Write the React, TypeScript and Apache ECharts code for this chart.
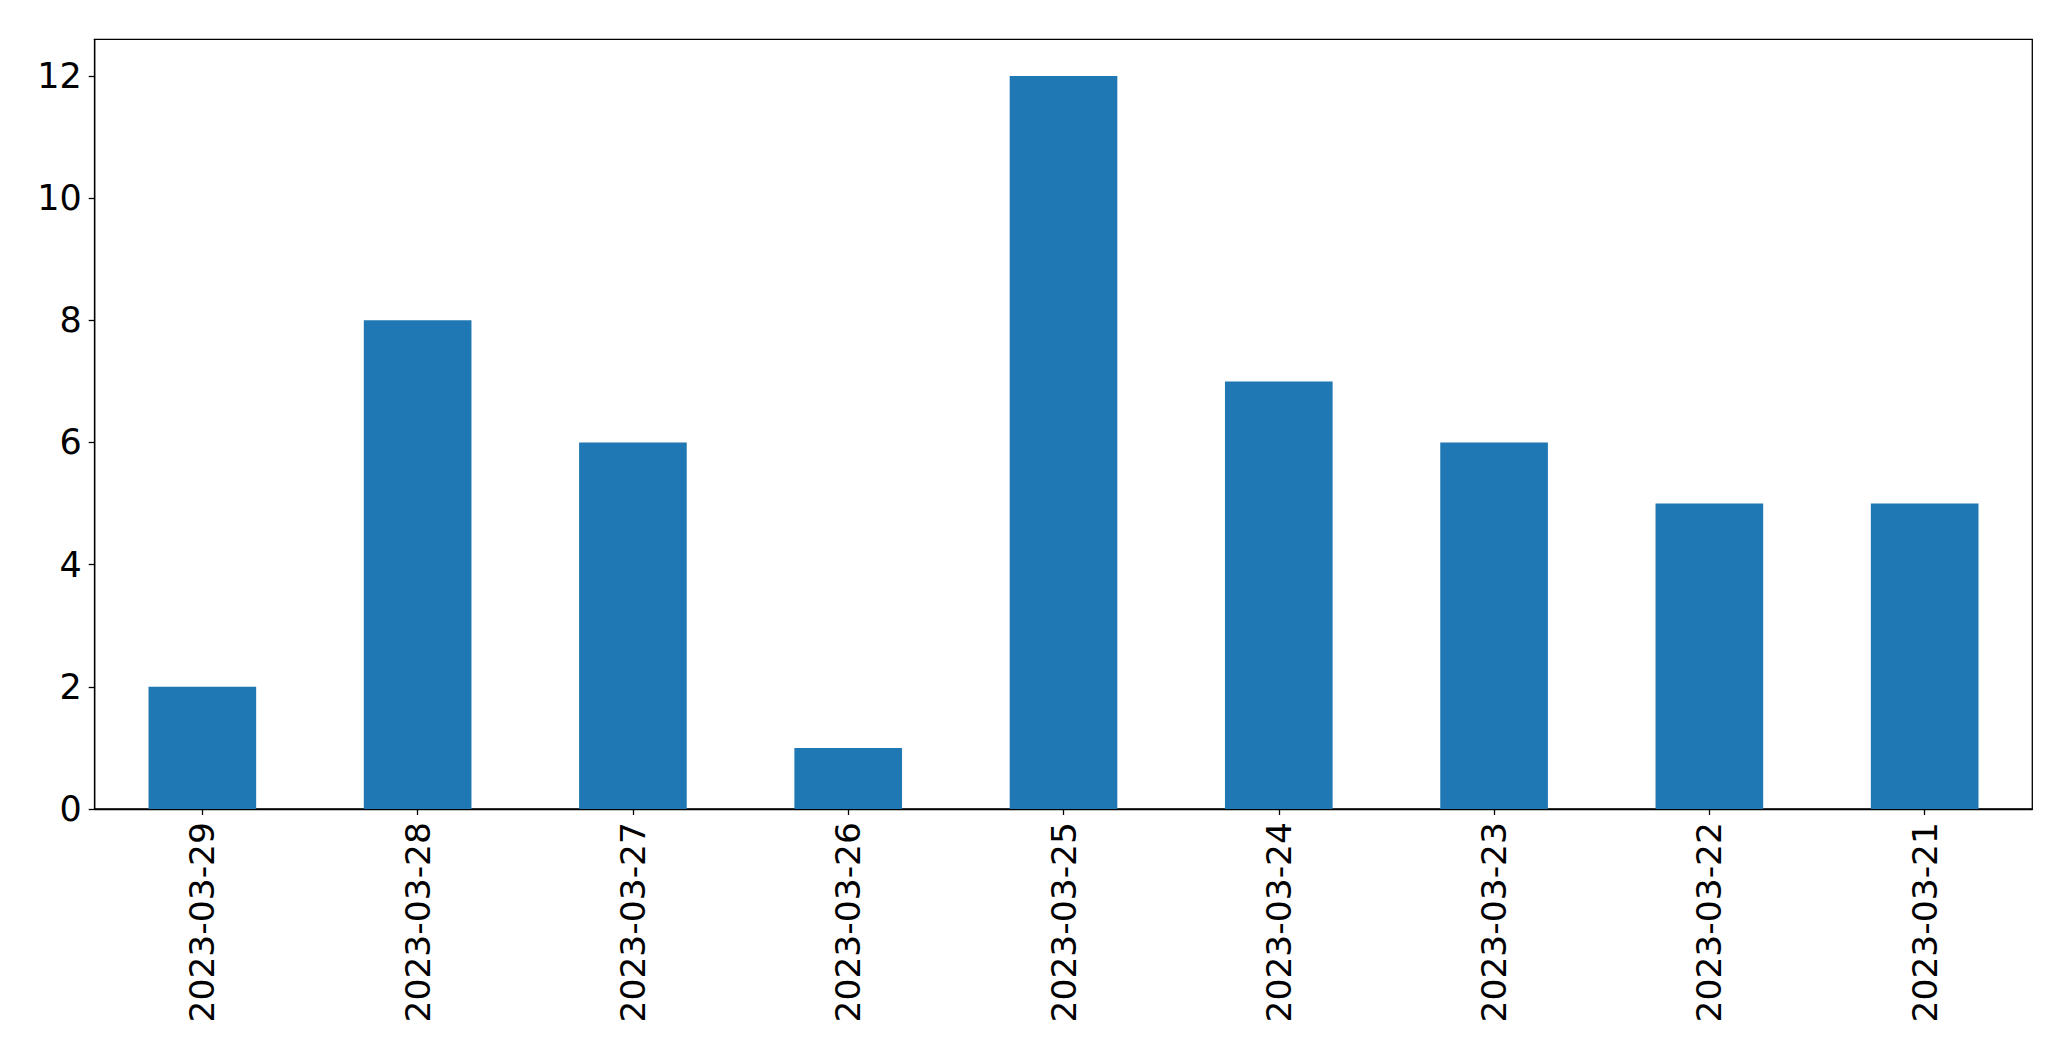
import React, { useEffect, useRef } from "react";
import * as echarts from "echarts";

const categories = [
  "2023-03-29",
  "2023-03-28",
  "2023-03-27",
  "2023-03-26",
  "2023-03-25",
  "2023-03-24",
  "2023-03-23",
  "2023-03-22",
  "2023-03-21",
];
const values = [2, 8, 6, 1, 12, 7, 6, 5, 5];
const yTicks = [0, 2, 4, 6, 8, 10, 12];

export default function App() {
  const ref = useRef<HTMLDivElement>(null);
  useEffect(() => {
    if (!ref.current) return;
    const chart = echarts.init(ref.current, undefined, { renderer: "svg" });
    chart.setOption({
      animation: false,
      backgroundColor: "#ffffff",
      grid: {
        left: 94.7,
        top: 39.3,
        right: 38.7,
        bottom: 252,
        show: true,
        borderColor: "#000000",
        borderWidth: 1.3,
        backgroundColor: "transparent",
      },
      xAxis: {
        type: "category",
        data: categories,
        boundaryGap: true,
        axisLine: { show: true, lineStyle: { color: "#000000", width: 1.3 } },
        axisTick: {
          show: true,
          alignWithLabel: true,
          length: 6,
          lineStyle: { color: "#000000", width: 1.3 },
        },
        axisLabel: {
          rotate: 90,
          margin: 13,
          color: "#000000",
          fontFamily: "DejaVu Sans",
          fontSize: 34.5,
          interval: 0,
        },
        splitLine: { show: false },
      },
      yAxis: {
        type: "value",
        min: 0,
        max: 12.6,
        interval: 2,
        axisLine: { show: true, lineStyle: { color: "#000000", width: 1.3 } },
        axisTick: {
          show: true,
          length: 6,
          customValues: yTicks,
          lineStyle: { color: "#000000", width: 1.3 },
        },
        axisLabel: {
          customValues: yTicks,
          margin: 13,
          color: "#000000",
          fontFamily: "DejaVu Sans",
          fontSize: 35,
        },
        splitLine: { show: false },
      },
      series: [
        {
          type: "bar",
          data: values,
          barWidth: "50%",
          itemStyle: { color: "#1f77b4" },
        },
      ],
    });
    return () => chart.dispose();
  }, []);
  return (
    <div
      ref={ref}
      style={{ position: "fixed", left: 0, top: 0, width: 2071, height: 1061 }}
    />
  );
}
